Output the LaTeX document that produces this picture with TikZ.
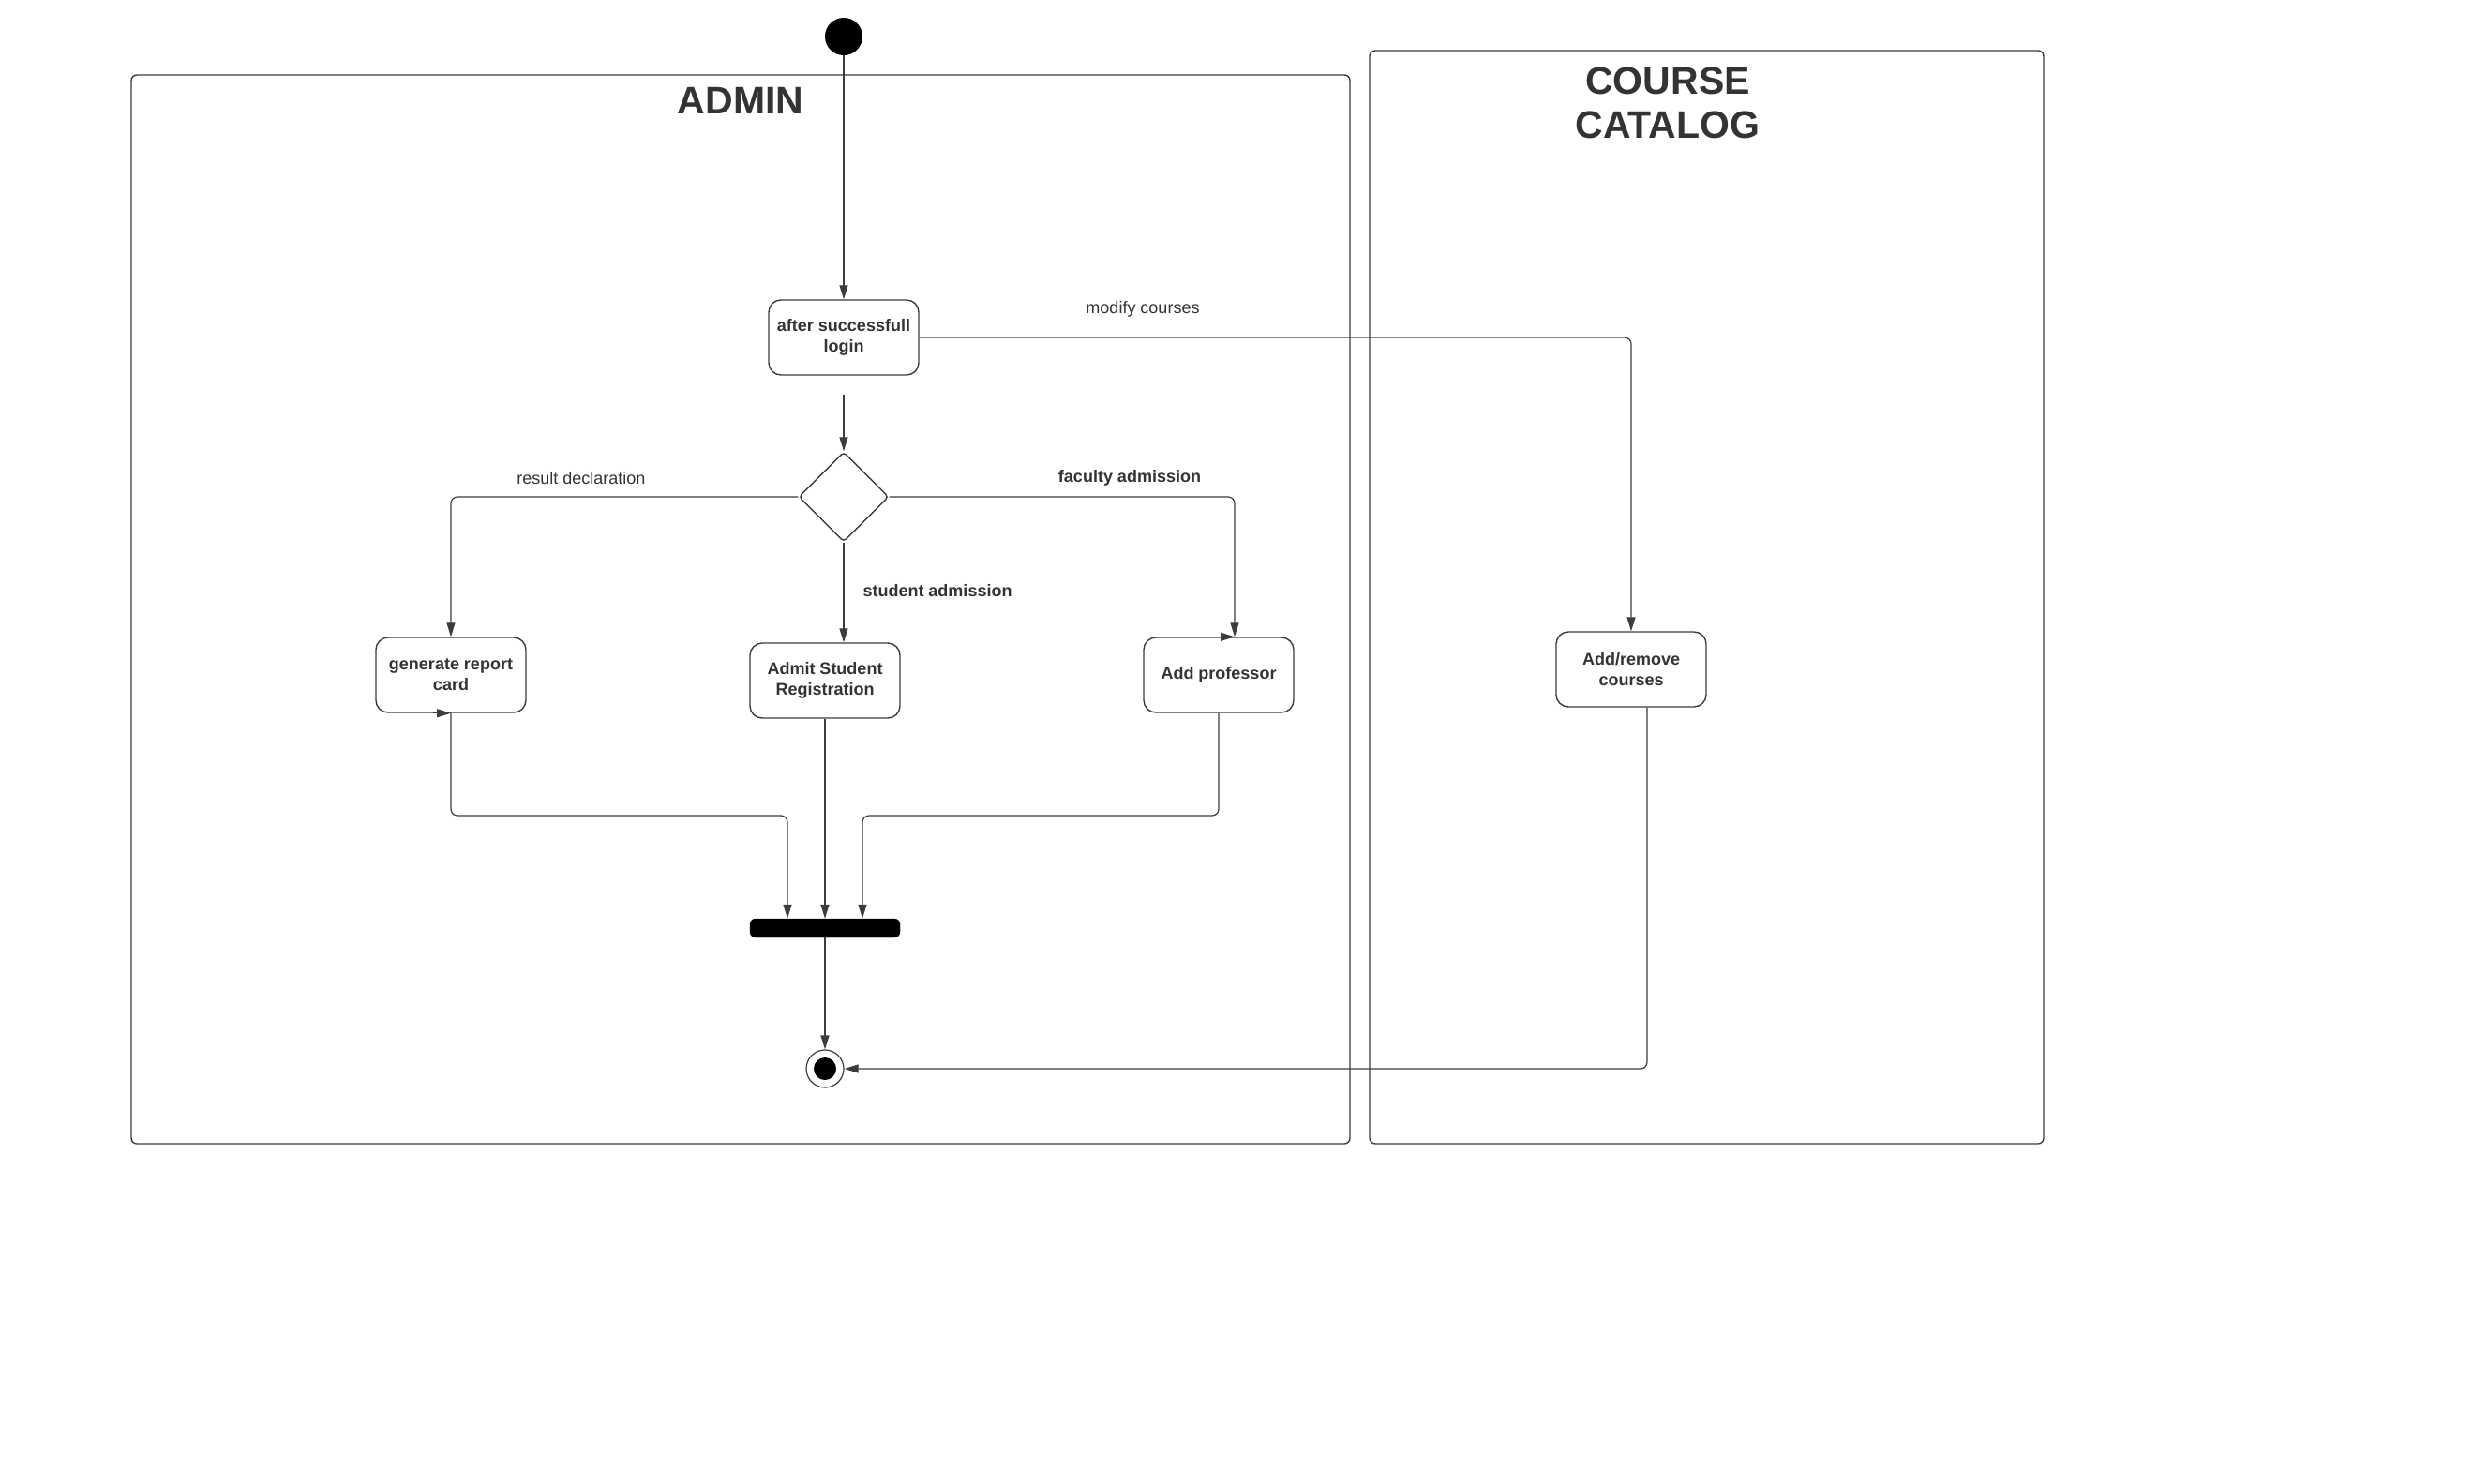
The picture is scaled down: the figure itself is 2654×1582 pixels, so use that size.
\documentclass[tikz,border=0pt]{standalone}
\usepackage{fontspec}
\setmainfont{Liberation Sans}
\usetikzlibrary{arrows.meta,shapes.geometric}
\definecolor{ink}{HTML}{333333}
\definecolor{edge}{HTML}{3C3C3C}
\begin{document}
\begin{tikzpicture}[x=1pt,y=-1pt,
  lane/.style={draw=edge,line width=1.4pt,rounded corners=6pt},
  act/.style={draw=edge,line width=1.4pt,rounded corners=13pt,minimum width=160pt,minimum height=80pt,
    align=center,text=ink,font=\fontsize{18}{22}\selectfont\bfseries,inner sep=2pt},
  flow/.style={draw=edge,line width=1.2pt,rounded corners=7pt,-{Triangle[length=15pt,width=9pt]}},
  lbl/.style={text=ink,font=\fontsize{18}{22}\selectfont},
  blbl/.style={text=ink,font=\fontsize{18}{22}\selectfont\bfseries},
  title/.style={text=ink,font=\fontsize{41}{47}\selectfont\bfseries,align=center}]
\useasboundingbox (0,0) rectangle (2654,1582);

% swimlanes
\draw[lane] (140,80) rectangle (1440,1220);
\draw[lane] (1461,54) rectangle (2180,1220);
\node[title] (tadmin) at (790,107) {ADMIN};
\node[title] (tcat) at (1779,110) {COURSE\\CATALOG};

% activity nodes
\node[circle,fill=black,minimum size=40pt,inner sep=0] (start) at (900,39) {};
\node[act] (login) at (900,360) {after successfull\\login};
\node[diamond,draw=edge,line width=1.4pt,rounded corners=4pt,minimum width=96pt,minimum height=96pt,inner sep=0] (dec) at (900,530) {};
\node[act] (rc) at (481,720) {generate report\\card};
\node[act] (adm) at (880,726) {Admit Student\\Registration};
\node[act] (prof) at (1300,720) {Add professor};
\node[act] (crs) at (1740,714) {Add/remove\\courses};
\node[draw=black,fill=black,rounded corners=6pt,minimum width=160pt,minimum height=20pt,inner sep=0] (bar) at (880,990) {};
\node[circle,draw=edge,line width=1.2pt,minimum size=40pt,inner sep=0] (end) at (880,1140) {};
\node[circle,fill=black,minimum size=24pt,inner sep=0] (endin) at (end.center) {};

% connectors
\coordinate (g1) at (900,421);
\coordinate (jl) at (840,870);
\coordinate (jr) at (920,870);
\draw[flow] (start) -- (login.north);
\draw[flow] (g1) -- (dec.north);
\draw[flow] (dec.west) -| (rc.north);
\draw[flow] (dec.east) -| ([xshift=17pt]prof.north);
\draw[flow] (dec.south) -- (dec.south |- adm.north);
\draw[flow] (login.east) -| (crs.north);
\draw[flow] (rc.south) |- (jl) -- (jl |- bar.north);
\draw[flow] (adm.south) -- (adm.south |- bar.north);
\draw[flow] (prof.south) |- (jr) -- (jr |- bar.north);
\draw[flow] (bar.south) -- (end.north);
\draw[flow] ([xshift=17pt]crs.south) |- (end.east);
\draw[flow] ([xshift=-19pt]rc.south) -- (rc.south);
\draw[flow] ([xshift=-2pt]prof.north) -- ([xshift=17pt]prof.north);

% transition labels
\node[lbl] (l1) at (620,510) {result declaration};
\node[blbl] (l2) at (1205,510) {faculty admission};
\node[blbl] (l3) at (1000,630) {student admission};
\node[lbl] (l4) at (1219,330) {modify courses};
\end{tikzpicture}
\end{document}
